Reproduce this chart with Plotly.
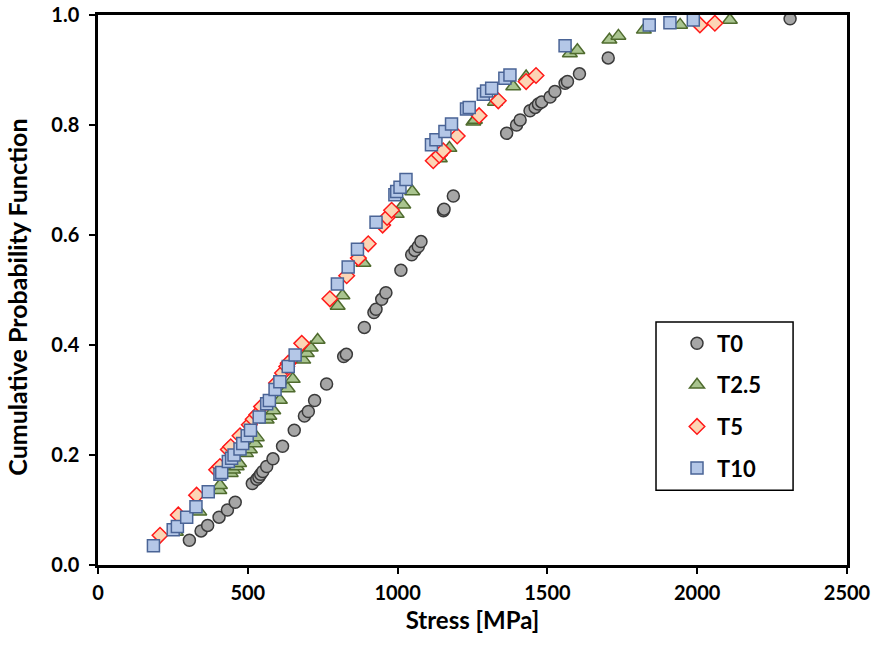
import plotly.graph_objects as go

# ---- data ----
t0_x = [305, 344, 366, 404, 432, 458, 515, 530, 537, 543, 550, 563, 584, 616, 655, 689, 702, 723, 763,
        820, 829, 889, 921, 928, 947, 961, 1011, 1047, 1058, 1069, 1078, 1153, 1155, 1186, 1364, 1397,
        1409, 1442, 1459, 1470, 1481, 1509, 1525, 1559, 1567, 1607, 1703, 2310]
t0_y = [0.045, 0.062, 0.072, 0.087, 0.100, 0.114, 0.148, 0.156, 0.160, 0.165, 0.170, 0.179, 0.193, 0.216,
        0.245, 0.271, 0.279, 0.299, 0.329, 0.379, 0.383, 0.432, 0.459, 0.465, 0.483, 0.495, 0.536, 0.564,
        0.572, 0.579, 0.588, 0.644, 0.647, 0.671, 0.785, 0.800, 0.809, 0.826, 0.832, 0.838, 0.842, 0.851,
        0.861, 0.876, 0.879, 0.893, 0.922, 0.993]

t25_x = [260, 338, 405, 407, 443, 451, 463, 471, 494, 507, 524, 530, 563, 572, 585, 607, 633, 650, 685,
         697, 710, 733, 800, 816, 886, 997, 1019, 1049, 1141, 1173, 1253, 1258, 1325, 1386, 1429, 1575,
         1600, 1707, 1737, 1822, 1943, 2109]
t25_y = [0.060, 0.097, 0.136, 0.145, 0.167, 0.173, 0.179, 0.185, 0.203, 0.210, 0.221, 0.232, 0.264, 0.271,
         0.281, 0.300, 0.321, 0.338, 0.373, 0.385, 0.395, 0.409, 0.471, 0.490, 0.549, 0.638, 0.655, 0.679,
         0.739, 0.758, 0.806, 0.809, 0.842, 0.870, 0.888, 0.930, 0.936, 0.955, 0.962, 0.973, 0.982, 0.991]

t5_x = [207, 268, 329, 396, 407, 435, 443, 474, 505, 518, 530, 546, 596, 616, 630, 635, 680, 774, 830, 869,
        902, 950, 965, 980, 1119, 1139, 1152, 1199, 1272, 1336, 1429, 1462, 2009, 2059]
t5_y = [0.054, 0.091, 0.127, 0.173, 0.179, 0.210, 0.215, 0.235, 0.255, 0.265, 0.273, 0.288, 0.331, 0.349,
        0.361, 0.367, 0.403, 0.484, 0.526, 0.558, 0.584, 0.618, 0.632, 0.645, 0.735, 0.745, 0.753, 0.780,
        0.817, 0.844, 0.879, 0.890, 0.982, 0.985]

t10_x = [185, 251, 265, 296, 327, 368, 407, 413, 435, 446, 454, 474, 483, 498, 509, 538, 563, 572, 591, 607,
         635, 658, 799, 835, 866, 928, 991, 997, 1008, 1028, 1113, 1128, 1158, 1180, 1230, 1239, 1286, 1297,
         1314, 1358, 1375, 1559, 1840, 1909, 1987]
t10_y = [0.035, 0.064, 0.070, 0.087, 0.106, 0.133, 0.165, 0.168, 0.188, 0.194, 0.200, 0.211, 0.221, 0.235,
         0.245, 0.269, 0.293, 0.299, 0.319, 0.333, 0.361, 0.382, 0.511, 0.542, 0.574, 0.623, 0.673, 0.679,
         0.687, 0.701, 0.764, 0.773, 0.788, 0.802, 0.829, 0.832, 0.856, 0.862, 0.867, 0.885, 0.891, 0.944,
         0.982, 0.986, 0.991]

x_ticks = [0, 500, 1000, 1500, 2000, 2500]
y_ticks = [0.0, 0.2, 0.4, 0.6, 0.8, 1.0]

FONT = "Lato"

fig = go.Figure()

series = [
    ("T0", t0_x, t0_y, "circle", 12, "#a6a6a6", "#3a3a3a"),
    ("T2.5", t25_x, t25_y, "triangle-up", 13, "#a9c48f", "#4f6b2e"),
    ("T5", t5_x, t5_y, "diamond", 12, "#fcd5b5", "#ff1a1a"),
    ("T10", t10_x, t10_y, "square", 12, "#b4c7e7", "#4a6496"),
]
for name, xs, ys, sym, sz, fill, line in series:
    fig.add_trace(go.Scatter(
        x=xs, y=ys, mode="markers", name=name, legendgroup=name,
        marker=dict(symbol=sym, size=sz, color=fill, line=dict(color=line, width=1.5)),
    ))

axis_common = dict(
    showgrid=False, zeroline=False, showline=True, linecolor="black", linewidth=2.5,
    mirror=True, ticks="outside", ticklen=6, tickwidth=2, tickcolor="black",
    tickfont=dict(family=FONT, size=20, color="black", weight="bold"),
    automargin=False,
)

fig.update_xaxes(range=[0, 2500], tickvals=x_ticks, ticktext=[str(v) for v in x_ticks],
                 ticklabelstandoff=2,
                 title=dict(text="<b>Stress [MPa]</b>", font=dict(family=FONT, size=24, color="black"),
                            standoff=10),
                 **axis_common)
fig.update_yaxes(range=[0, 1.0], tickvals=y_ticks, ticktext=[f"{v:.1f}" for v in y_ticks],
                 ticklabelstandoff=6, **axis_common)

fig.add_annotation(text="<b>Cumulative Probability Function</b>", textangle=-90,
                   xref="paper", yref="paper", x=-0.1075, y=0.487,
                   xanchor="center", yanchor="middle", showarrow=False,
                   font=dict(family=FONT, size=25, color="black"))

fig.add_shape(type="rect", xref="paper", yref="paper",
              x0=0.745, x1=0.928, y0=0.136, y1=0.442,
              line=dict(color="black", width=1.5), fillcolor="white", layer="above")

fig.update_layout(
    width=873, height=649,
    margin=dict(l=98, r=26, t=15, b=84),
    plot_bgcolor="white", paper_bgcolor="white",
    legend=dict(
        x=0.745, y=0.441, xanchor="left", yanchor="top",
        bgcolor="rgba(0,0,0,0)", borderwidth=0,
        font=dict(family=FONT, size=22, color="black", weight="bold"),
        tracegroupgap=10, itemwidth=30,
        indentation=21,
    ),
)

fig.write_html("out.html")
